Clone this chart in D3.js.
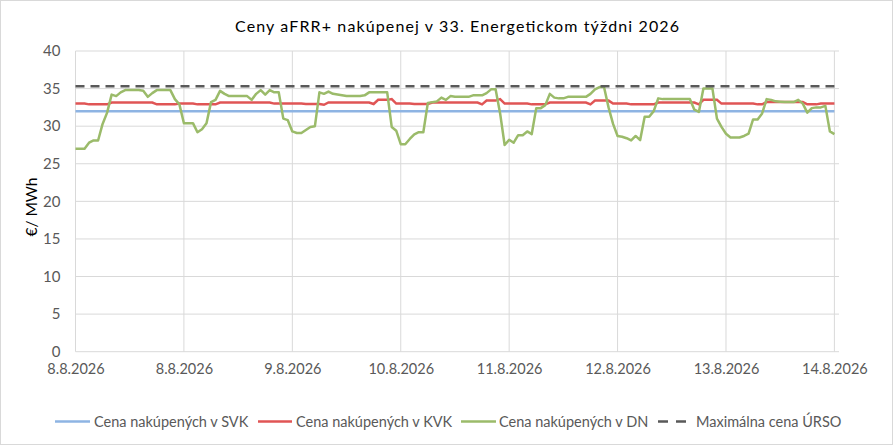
<!DOCTYPE html>
<html><head><meta charset="utf-8">
<script src="https://cdn.jsdelivr.net/npm/d3@7/dist/d3.min.js"></script>
<style>body{margin:0;background:#fff}svg{display:block}</style>
</head><body>
<svg id="c" width="894" height="446"></svg>
<script>
const title = "Ceny aFRR+ nakúpenej v 33. Energetickom týždni 2026";
const yTitle = "€/ MWh";
const xTickLabels = ["8.8.2026","8.8.2026","9.8.2026","10.8.2026","11.8.2026","12.8.2026","13.8.2026","14.8.2026"];
const yTicks = [0,5,10,15,20,25,30,35,40];
const seriesNames = ["Cena nakúpených v SVK","Cena nakúpených v KVK","Cena nakúpených v DN","Maximálna cena ÚRSO"];

// hourly values, 169 points
const svk = [
32,32,32,32,32,32,32,32,32,32,32,32,32,32,32,32,32,32,32,32,32,32,32,32,
32,32,32,32,32,32,32,32,32,32,32,32,32,32,32,32,32,32,32,32,32,32,32,32,
32,32,32,32,32,32,32,32,32,32,32,32,32,32,32,32,32,32,32,32,32,32,32,32,
32,32,32,32,32,32,32,32,32,32,32,32,32,32,32,32,32,32,32,32,32,32,32,32,
32,32,32,32,32,32,32,32,32,32,32,32,32,32,32,32,32,32,32,32,32,32,32,32,
32,32,32,32,32,32,32,32,32,32,32,32,32,32,32,32,32,32,32,32,32,32,32,32,
32,32,32,32,32,32,32,32,32,32,32,32,32,32,32,32,32,32,32,32,32,32,32,32,
32];
const kvk = [
33.0,33.0,33.0,32.9,32.9,32.9,32.9,32.9,33.15,33.15,33.15,33.15,33.15,33.15,33.15,33.15,33.15,33.15,32.9,32.9,32.9,32.9,32.9,33.0,
33.0,33.0,33.0,32.9,32.9,32.9,32.9,32.9,33.15,33.15,33.15,33.15,33.15,33.15,33.15,33.15,33.15,33.15,33.15,33.15,33.0,33.0,33.0,33.0,
33.0,33.0,33.0,32.95,32.95,32.95,32.95,32.85,33.15,33.15,33.15,33.15,33.15,33.15,33.15,33.15,33.15,33.15,32.95,33.5,33.5,33.5,33.6,33.0,
33.0,33.0,33.0,32.95,32.95,32.95,32.95,33.15,33.15,33.15,33.15,33.15,33.15,33.15,33.15,33.15,33.15,33.15,32.9,33.4,33.4,33.4,33.6,33.0,
33.0,33.0,33.0,33.0,33.0,32.9,32.9,32.9,32.9,33.15,33.15,33.15,33.15,33.15,33.15,33.15,33.15,33.15,32.9,33.4,33.4,33.4,33.4,33.0,
33.0,33.0,33.0,32.9,32.9,32.9,32.9,32.9,32.9,33.15,33.15,33.15,33.15,33.15,33.15,33.15,33.15,33.15,32.9,33.5,33.5,33.5,33.5,33.0,
33.0,33.0,33.0,33.0,33.0,33.0,33.0,32.9,32.9,33.2,33.2,33.2,33.2,33.2,33.2,33.2,33.2,33.2,32.9,32.9,32.9,33.0,33.0,33.0,
33.0];
const dn = [
27.0,27.0,27.0,27.8,28.1,28.1,30.3,31.8,34.2,34.0,34.5,34.8,34.8,34.8,34.8,34.7,33.9,34.4,34.8,34.8,34.8,34.8,33.6,32.9,
30.4,30.4,30.4,29.2,29.6,30.4,33.2,33.5,34.7,34.3,34.0,34.0,34.0,34.0,34.0,33.5,34.3,34.8,34.2,34.8,34.5,34.5,31.0,30.8,
29.3,29.1,29.1,29.5,29.9,30.0,34.5,34.3,34.6,34.3,34.2,34.1,34.0,34.0,34.0,34.0,34.1,34.5,34.5,34.5,34.5,34.5,29.9,29.4,
27.6,27.6,28.3,28.9,29.2,29.2,33.1,33.2,33.3,33.8,33.5,34.0,33.9,33.9,33.9,33.9,34.1,34.1,34.1,34.4,34.9,34.9,31.7,27.5,
28.2,27.8,28.8,28.8,29.3,28.95,32.4,32.4,32.8,34.3,33.8,33.7,33.7,33.9,33.9,33.9,33.9,33.9,34.3,34.9,35.2,35.2,32.5,30.3,
28.7,28.6,28.4,28.1,28.7,28.15,31.25,31.25,32.0,33.7,33.6,33.6,33.6,33.6,33.6,33.6,33.6,32.2,31.9,35.0,35.0,35.0,31.0,29.9,
29.0,28.5,28.5,28.5,28.7,29.0,30.9,30.9,31.7,33.6,33.5,33.3,33.25,33.2,33.2,33.2,33.5,33.0,31.8,32.4,32.5,32.5,32.7,29.3,
28.95];
const urso = [35.32, 35.32];

(function(){
const svg = d3.select("#c");
const W = 894, H = 446;
const font = "Lato, 'Open Sans', sans-serif";

svg.append("rect").attr("x",0.5).attr("y",0.5).attr("width",W-2).attr("height",H-2)
  .attr("fill","#fff").attr("stroke","#d9d9d9");

const pl = 75.5, pr = 839, pt = 51, pb = 351.7;
const x = d3.scaleLinear().domain([0, 168]).range([pl, 834.4]);
const y = d3.scaleLinear().domain([0, 40]).range([pb, pt]);

svg.append("g").selectAll("line").data(yTicks).join("line")
  .attr("x1", pl).attr("x2", pr)
  .attr("y1", d => y(d)).attr("y2", d => y(d))
  .attr("stroke", "#d9d9d9").attr("stroke-width", 1);
const xTickIdx = xTickLabels.map((d,i)=>i*24);
svg.append("g").selectAll("line").data(xTickIdx).join("line")
  .attr("x1", d => x(d)).attr("x2", d => x(d))
  .attr("y1", pt).attr("y2", pb)
  .attr("stroke", "#d9d9d9").attr("stroke-width", 1);

const yAxis = svg.append("g").attr("transform", `translate(${pl},0)`)
  .call(d3.axisLeft(y).tickValues(yTicks).tickSize(0).tickPadding(15));
yAxis.select(".domain").remove();
yAxis.selectAll("text").attr("font-family", font).attr("font-size", 15).attr("fill", "#595959");

const xAxis = svg.append("g").attr("transform", `translate(0,${pb})`)
  .call(d3.axisBottom(x).tickValues(xTickIdx).tickFormat((d,i)=>xTickLabels[i]).tickSize(0).tickPadding(12));
xAxis.select(".domain").remove();
xAxis.selectAll("text").attr("font-family", font).attr("font-size", 14.5).attr("fill", "#595959");

const line = d3.line().x((d,i)=>x(i)).y(d=>y(d));
svg.append("path").datum(svk).attr("d", line).attr("fill","none").attr("stroke","#8eb4e3").attr("stroke-width",2.5);
svg.append("path").datum(kvk).attr("d", line).attr("fill","none").attr("stroke","#e05555").attr("stroke-width",2.5);
svg.append("path").datum(dn).attr("d", line).attr("fill","none").attr("stroke","#9bbb6a").attr("stroke-width",2.5).attr("stroke-linejoin","round");
svg.append("path").datum(urso).attr("d", d3.line().x((d,i)=>i===0?x(0):x(168)).y(d=>y(d)))
  .attr("fill","none").attr("stroke","#595959").attr("stroke-width",2.5).attr("stroke-dasharray","9,6");

svg.append("text").attr("x", 235).attr("y", 31.5)
  .attr("textLength", 444).attr("lengthAdjust", "spacing")
  .attr("font-family", font).attr("font-size", 16).attr("fill","#000").text(title);

svg.append("text").attr("transform","translate(37,207) rotate(-90)").attr("text-anchor","middle")
  .attr("font-family", font).attr("font-size", 15.5).attr("fill","#000").text(yTitle);

const legendItems = [
  {name: seriesNames[0], color:"#8eb4e3", dash:null, x1:55, x2:90, tx:94},
  {name: seriesNames[1], color:"#e05555", dash:null, x1:258, x2:292, tx:296},
  {name: seriesNames[2], color:"#9bbb6a", dash:null, x1:461, x2:496, tx:499},
  {name: seriesNames[3], color:"#595959", dash:"10,8", x1:658, x2:686, tx:696}
];
const lg = svg.append("g");
legendItems.forEach(it => {
  lg.append("line").attr("x1", it.x1).attr("x2", it.x2).attr("y1", 421.5).attr("y2", 421.5)
    .attr("stroke", it.color).attr("stroke-width", 2.5).attr("stroke-dasharray", it.dash);
  lg.append("text").attr("x", it.tx).attr("y", 426.5).attr("font-family", font).attr("font-size", 14.5)
    .attr("fill","#595959").text(it.name);
});
})();
</script>
</body></html>
